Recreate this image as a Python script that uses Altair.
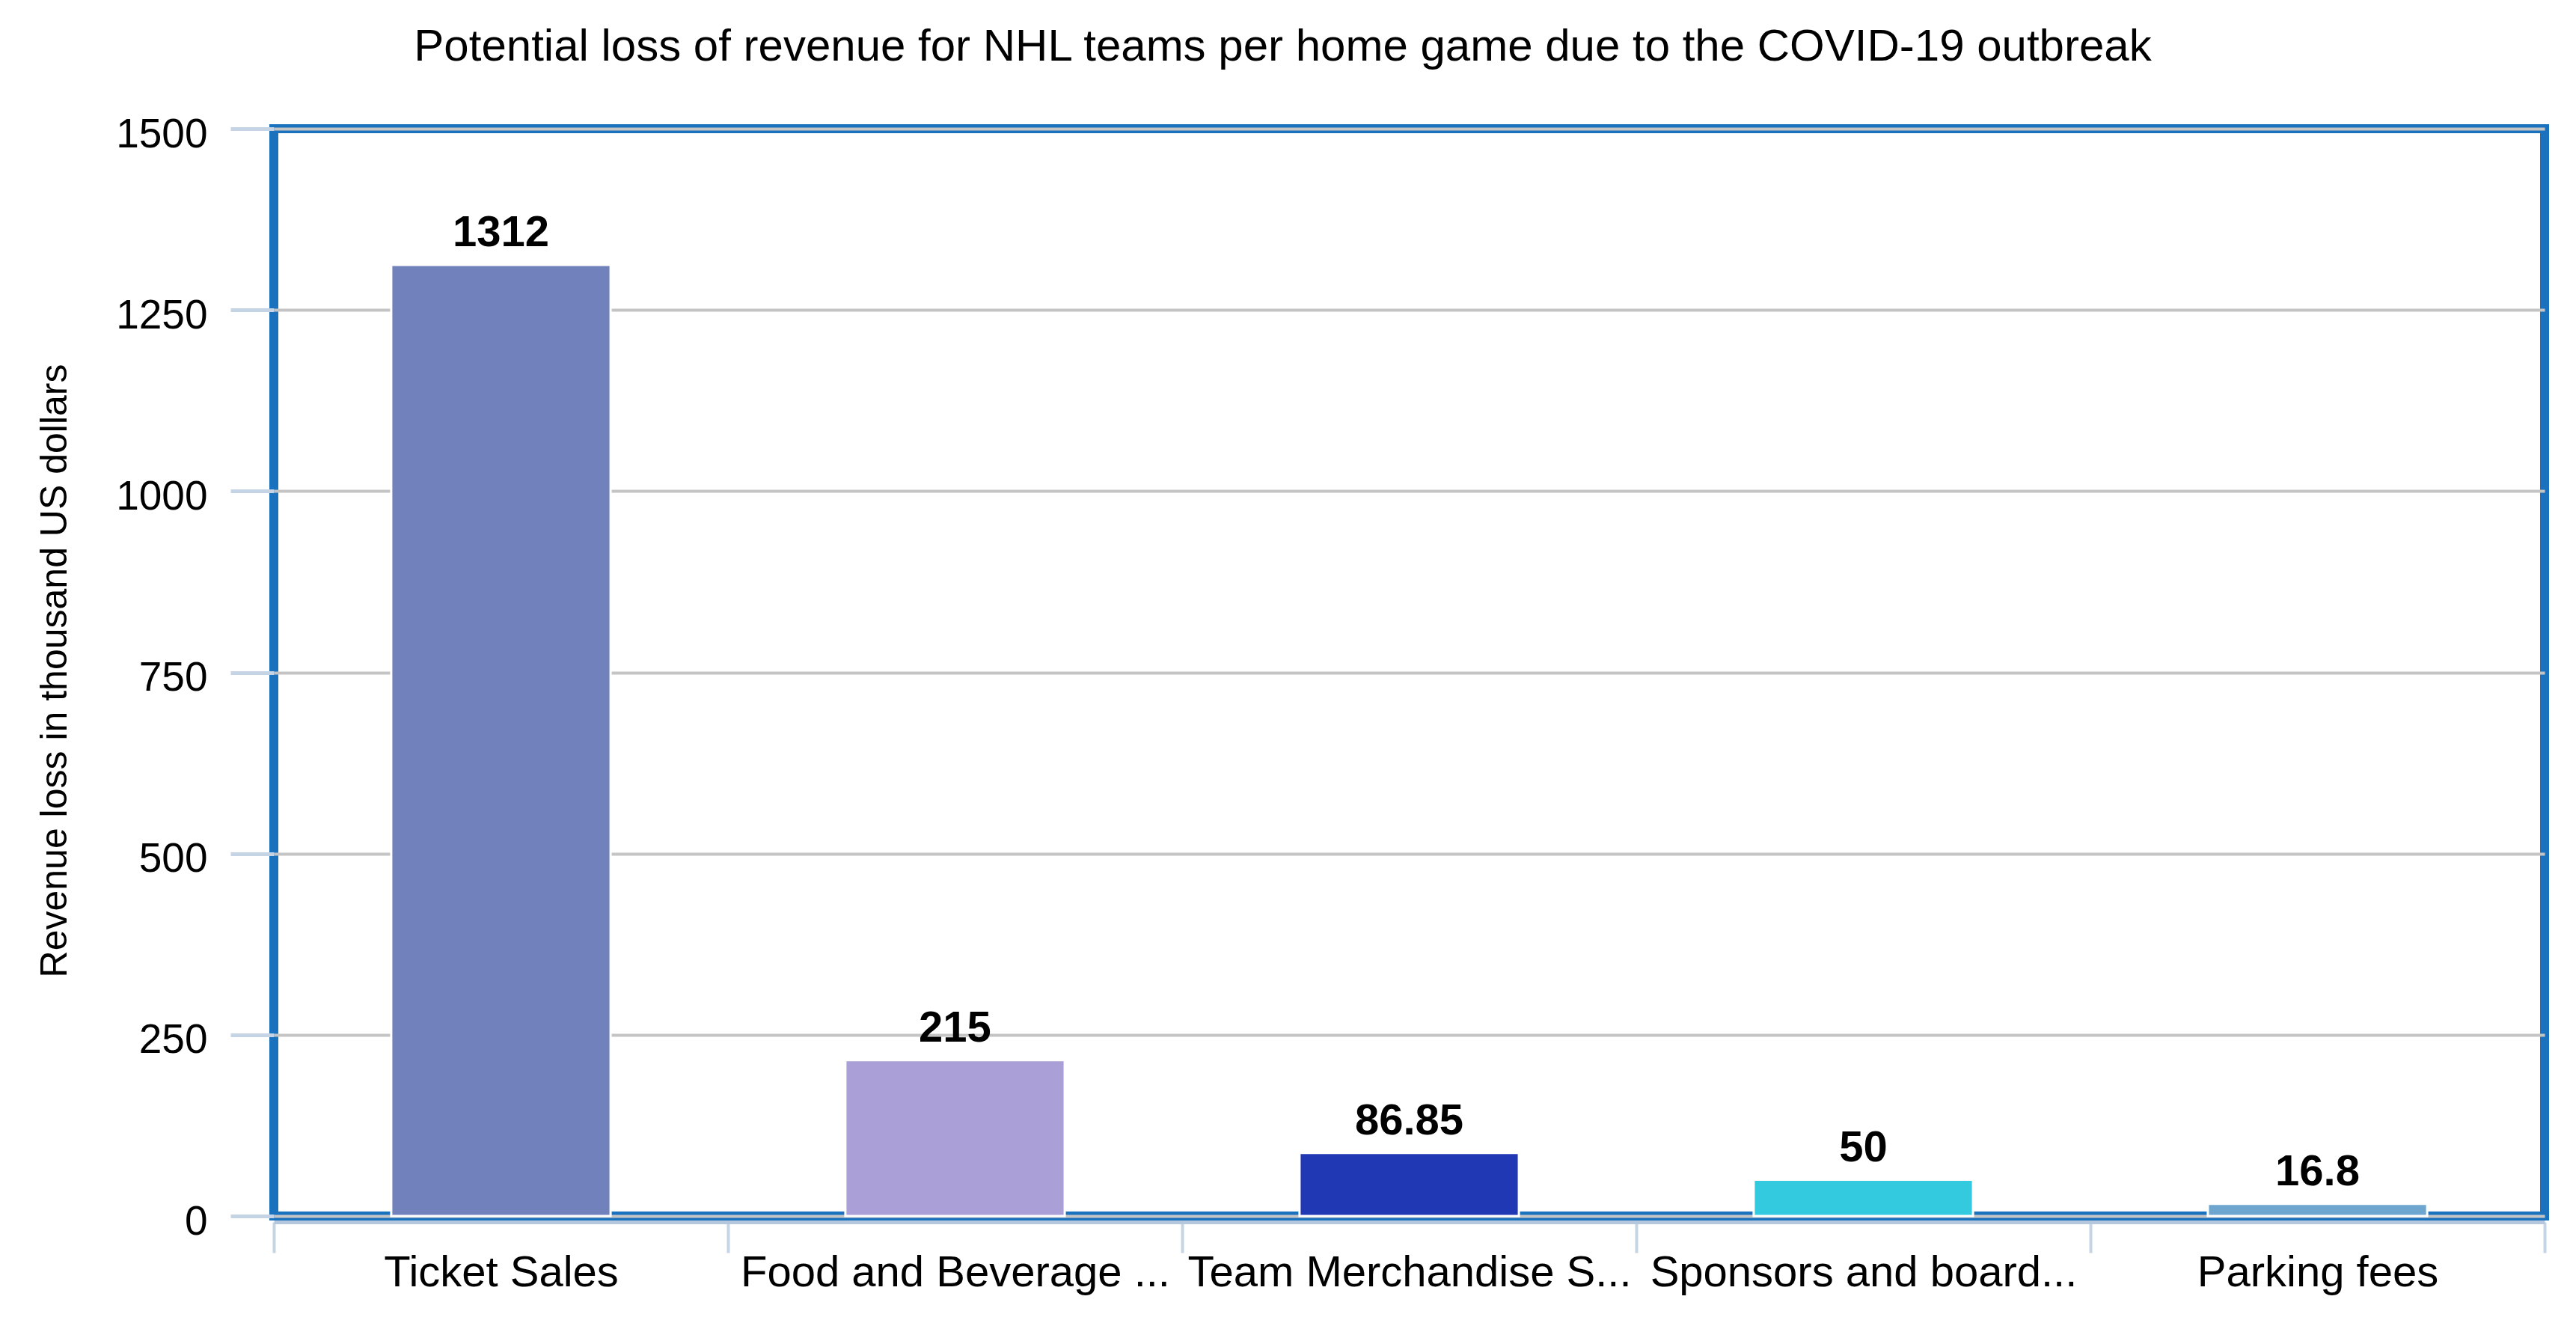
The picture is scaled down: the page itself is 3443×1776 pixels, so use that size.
import altair as alt
import pandas as pd

categories = ["Ticket Sales", "Food and Beverage ...", "Team Merchandise S...",
              "Sponsors and board...", "Parking fees"]
values = [1312, 215, 86.85, 50, 16.8]
bar_colors = ["#7181bb", "#aa9fd6", "#2138b5", "#33cae0", "#6fa6d0"]
y_ticks = [0, 250, 500, 750, 1000, 1250, 1500]

df = pd.DataFrame({
    "category": categories,
    "value": values,
    "label": [f"{v:g}" for v in values],
})

FONT = "Liberation Sans"

x_enc = alt.X(
    "category:N",
    sort=categories,
    scale=alt.Scale(paddingInner=0, paddingOuter=0),
    axis=alt.Axis(
        title=None,
        labelAngle=0,
        labelFontSize=58,
        labelFont=FONT,
        labelColor="#000000",
        labelBaseline="top",
        labelPadding=-2,
        labelLimit=0,
        tickBand="extent",
        tickColor="#c5d4e4",
        tickWidth=4,
        tickSize=41,
        domainColor="#b5c7dd",
        domainWidth=5,
        offset=8,
        grid=False,
    ),
)

y_enc = alt.Y(
    "value:Q",
    scale=alt.Scale(domain=[0, 1500], nice=False),
    axis=alt.Axis(
        values=y_ticks,
        format="d",
        title="Revenue loss in thousand US dollars",
        titleFont=FONT,
        titleFontSize=50,
        titleFontWeight="normal",
        titleColor="#000000",
        titleAngle=-90,
        titleBaseline="middle",
        titleAlign="center",
        titleX=-293,
        titleY=724,
        labelFont=FONT,
        labelFontSize=55,
        labelColor="#000000",
        labelPadding=31,
        labelOffset=7,
        tickSize=58,
        tickColor="#c5d4e4",
        tickWidth=5,
        domain=False,
        grid=True,
        gridColor="#c4c4c4",
        gridWidth=4,
    ),
)

bars = alt.Chart(df).mark_bar(
    stroke="white", strokeWidth=3, width=alt.RelativeBandSize(0.483)
).encode(
    x=x_enc,
    y=y_enc,
    color=alt.Color(
        "category:N",
        scale=alt.Scale(domain=categories, range=bar_colors),
        legend=None,
    ),
)

labels = alt.Chart(df).mark_text(
    font=FONT,
    fontSize=58,
    fontWeight="bold",
    color="#000000",
    baseline="alphabetic",
    dy=-25,
).encode(
    x=alt.X("category:N", sort=categories),
    y=alt.Y("value:Q"),
    text="label:N",
)

chart = (
    alt.layer(bars, labels)
    .properties(
        width=3035,
        height=1453,
        title=alt.TitleParams(
            "Potential loss of revenue for NHL teams per home game due to the COVID-19 outbreak",
            font=FONT,
            fontSize=60,
            fontWeight="normal",
            color="#000000",
            anchor="middle",
            dx=-169,
            offset=58,
        ),
        autosize=alt.AutoSizeParams(type="none"),
        padding={"left": 358, "top": 164, "right": 30, "bottom": 120},
    )
    .configure(background="white", view=alt.ViewConfig(stroke="#1a72bf", strokeWidth=12))
)

chart.save("out.html", embed_options={"renderer": "svg", "actions": False})
